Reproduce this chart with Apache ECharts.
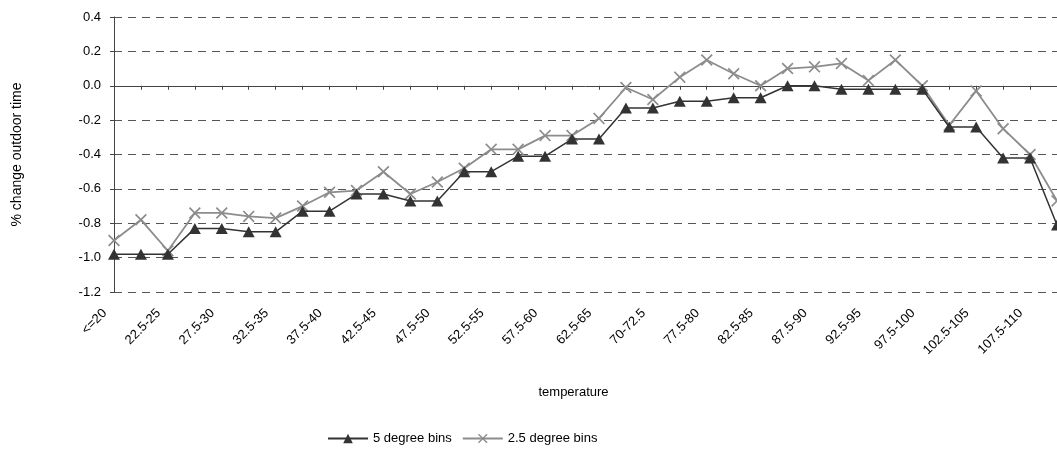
<!DOCTYPE html>
<html>
<head>
<meta charset="utf-8">
<script src="https://cdn.jsdelivr.net/npm/echarts@6/dist/echarts.min.js"></script>
<style>
  html, body { margin: 0; padding: 0; background: #ffffff; }
  #chart { width: 1057px; height: 472px; }
</style>
</head>
<body>
<div id="chart"></div>
<script>
// Temperature bins (2.5 degree steps); every other one is labelled on the axis
const temperatureBins = [
  '<=20', '20-22.5', '22.5-25', '25-27.5', '27.5-30', '30-32.5', '32.5-35', '35-37.5',
  '37.5-40', '40-42.5', '42.5-45', '45-47.5', '47.5-50', '50-52.5', '52.5-55', '55-57.5',
  '57.5-60', '60-62.5', '62.5-65', '65-70', '70-72.5', '72.5-77.5', '77.5-80', '80-82.5',
  '82.5-85', '85-87.5', '87.5-90', '90-92.5', '92.5-95', '95-97.5', '97.5-100', '100-102.5',
  '102.5-105', '105-107.5', '107.5-110', '>110'
];

// % change in outdoor time, 5 degree bins (each value spans its 2.5 degree sub-bins)
const fiveDegreeBins = [
  -0.98, -0.98, -0.98, -0.83, -0.83, -0.85, -0.85, -0.73, -0.73, -0.63, -0.63, -0.67,
  -0.67, -0.50, -0.50, -0.41, -0.41, -0.31, -0.31, -0.13, -0.13, -0.09, -0.09, -0.07,
  -0.07, 0.00, 0.00, -0.02, -0.02, -0.02, -0.02, -0.24, -0.24, -0.42, -0.42, -0.81
];

// % change in outdoor time, 2.5 degree bins
const twoPointFiveDegreeBins = [
  -0.90, -0.78, -0.96, -0.74, -0.74, -0.76, -0.77, -0.70, -0.62, -0.61, -0.50, -0.63,
  -0.56, -0.48, -0.37, -0.37, -0.29, -0.29, -0.19, -0.01, -0.08, 0.05, 0.15, 0.07,
  0.00, 0.10, 0.11, 0.13, 0.03, 0.15, 0.00, -0.23, -0.03, -0.25, -0.40, -0.67
];

// Value axis range
const yMin = -1.2;
const yMax = 0.4;
const yStep = 0.2;

const seriesNames = ['5 degree bins', '2.5 degree bins'];

// Cross-shaped marker drawn as a filled outline
const crossSymbol = 'path://M0,1L1,0L5,4L9,0L10,1L6,5L10,9L9,10L5,6L1,10L0,9L4,5Z';

const chart = echarts.init(document.getElementById('chart'));
const font = '"Liberation Sans", Arial, sans-serif';

chart.setOption({
  animation: false,
  backgroundColor: '#ffffff',
  textStyle: { fontFamily: font, color: '#000' },
  grid: { left: 114, right: -3, top: 17, bottom: 180, containLabel: false },
  legend: {
    data: seriesNames,
    top: 427,
    left: 322,
    itemWidth: 40,
    itemHeight: 12,
    itemGap: 10,
    textStyle: { fontFamily: font, fontSize: 13, color: '#000' }
  },
  xAxis: [
    {
      type: 'category',
      data: temperatureBins,
      boundaryGap: false,
      axisLine: { onZero: true, lineStyle: { color: '#444', width: 1 } },
      axisTick: { show: true, length: 4, interval: 0, lineStyle: { color: '#444' } },
      axisLabel: { show: false },
      splitLine: { show: false }
    },
    {
      type: 'category',
      data: temperatureBins,
      position: 'bottom',
      boundaryGap: false,
      axisLine: { show: false, onZero: false },
      axisTick: { show: false },
      axisLabel: {
        interval: 1,
        rotate: 45,
        margin: 10,
        padding: [0, 13, 0, 0],
        fontSize: 13,
        fontFamily: font,
        color: '#000'
      },
      splitLine: { show: false },
      name: 'temperature',
      nameLocation: 'middle',
      nameGap: 94,
      nameTextStyle: { fontFamily: font, fontSize: 13, color: '#000', padding: [0, 24, 0, 0] }
    }
  ],
  yAxis: {
    type: 'value',
    min: yMin,
    max: yMax,
    interval: yStep,
    name: '% change outdoor time',
    nameLocation: 'middle',
    nameGap: 90,
    nameTextStyle: { fontFamily: font, fontSize: 14, color: '#000' },
    axisLine: { show: true, lineStyle: { color: '#444', width: 1 } },
    axisTick: { show: true, length: 4, lineStyle: { color: '#444' } },
    axisLabel: {
      fontSize: 13,
      margin: 13,
      color: '#000',
      fontFamily: font,
      formatter: v => v.toFixed(1)
    },
    splitLine: { show: true, lineStyle: { color: '#555', width: 1, type: [8, 6] } }
  },
  series: [
    {
      name: seriesNames[0],
      type: 'line',
      xAxisIndex: 0,
      data: fiveDegreeBins,
      symbol: 'triangle',
      symbolSize: [12, 11],
      lineStyle: { color: '#333', width: 1.5 },
      itemStyle: { color: '#333' },
      z: 3
    },
    {
      name: seriesNames[1],
      type: 'line',
      xAxisIndex: 0,
      data: twoPointFiveDegreeBins,
      symbol: crossSymbol,
      symbolSize: 12,
      lineStyle: { color: '#8c8c8c', width: 1.8 },
      itemStyle: { color: '#8c8c8c' },
      z: 2
    }
  ]
});
</script>
</body>
</html>
